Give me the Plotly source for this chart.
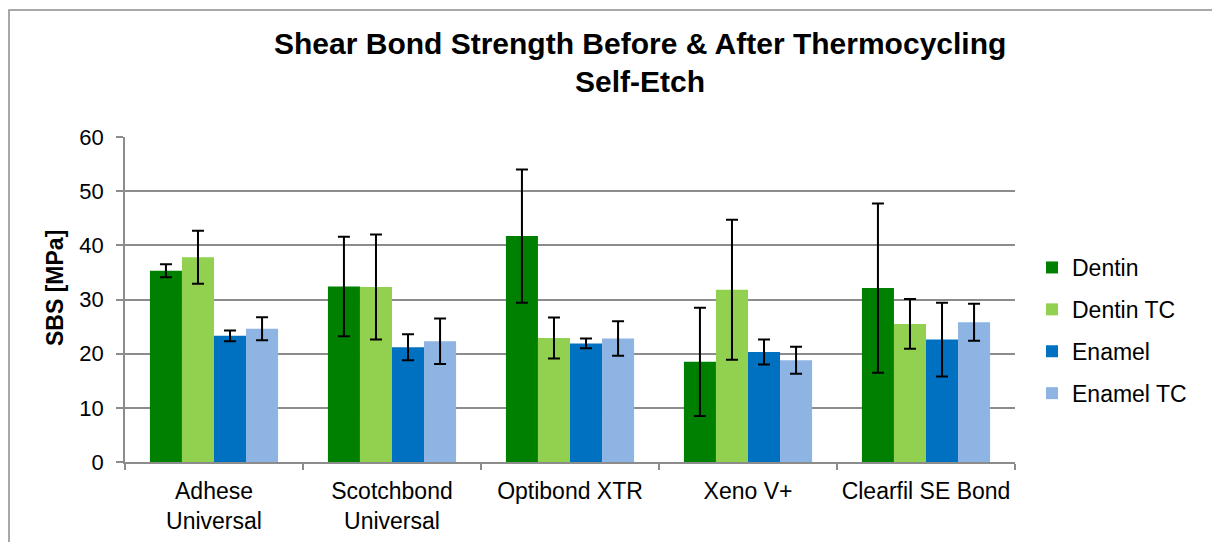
import plotly.graph_objects as go

categories = ["Adhese<br>Universal", "Scotchbond<br>Universal", "Optibond XTR", "Xeno V+", "Clearfil SE Bond"]
series_names = ["Dentin", "Dentin TC", "Enamel", "Enamel TC"]
dentin = [35.3, 32.4, 41.7, 18.5, 32.1]
dentin_err = [1.2, 9.2, 12.3, 10.0, 15.6]
dentin_tc = [37.8, 32.3, 22.9, 31.8, 25.5]
dentin_tc_err = [4.9, 9.7, 3.8, 12.9, 4.6]
enamel = [23.3, 21.2, 21.9, 20.3, 22.6]
enamel_err = [1.0, 2.4, 0.9, 2.3, 6.8]
enamel_tc = [24.6, 22.3, 22.8, 18.8, 25.8]
enamel_tc_err = [2.1, 4.2, 3.2, 2.5, 3.4]
colors = ["#008000", "#92D050", "#0070C0", "#8DB4E2"]
title_lines = ["Shear Bond Strength Before & After Thermocycling", "Self-Etch"]

values = [dentin, dentin_tc, enamel, enamel_tc]
errors = [dentin_err, dentin_tc_err, enamel_err, enamel_tc_err]

FONT = "Liberation Sans, Arial, sans-serif"

fig = go.Figure()
for name, v, e, c in zip(series_names, values, errors, colors):
    fig.add_trace(go.Bar(
        x=categories, y=v, name=name, legendgroup=name,
        marker=dict(color=c, line=dict(width=0)),
        error_y=dict(type="data", array=e, visible=True, color="black", thickness=2, width=6),
    ))

# plot area in px: x 125..1015, y 137..462
L, R, T, B = 125, 1015, 137, 462
W, H = 1212, 542
pw, ph = R - L, B - T

def px_x(x):
    return (x - L) / pw

def px_y(y):
    return (B - y) / ph

fig.update_layout(
    width=W, height=H,
    margin=dict(l=L, r=W - R, t=T, b=H - B, pad=0, autoexpand=False),
    paper_bgcolor="white", plot_bgcolor="white",
    font=dict(family=FONT, size=23, color="black"),
    barmode="group", bargap=0.28, bargroupgap=0,
    legend=dict(
        x=px_x(1032), xanchor="left",
        y=px_y(246), yanchor="top",
        font=dict(family=FONT, size=23, color="black"),
        traceorder="grouped", tracegroupgap=9,
        bgcolor="rgba(0,0,0,0)", itemwidth=30,
    ),
    showlegend=True,
)

fig.update_yaxes(
    range=[0, 60], dtick=10, showgrid=True, gridcolor="#8C8C8C", gridwidth=1.5,
    showline=True, linecolor="#8C8C8C", linewidth=1.5,
    ticks="outside", ticklen=7, tickcolor="#8C8C8C", tickwidth=1.5,
    tickfont=dict(family=FONT, size=22, color="black"), zeroline=False,
    automargin=False, ticklabelstandoff=8,
)
fig.update_xaxes(
    showline=True, linecolor="#8C8C8C", linewidth=1.5,
    ticks="outside", tickson="boundaries", ticklen=6, tickcolor="#8C8C8C", tickwidth=1.5,
    tickfont=dict(family=FONT, size=23, color="black"), showgrid=False,
    tickangle=0, automargin=False, ticklabelstandoff=8,
)

for line, yc in zip(title_lines, [43, 81]):
    fig.add_annotation(
        text="<b>" + line + "</b>", showarrow=False,
        xref="paper", yref="paper", x=px_x(640), y=px_y(yc),
        xanchor="center", yanchor="middle",
        font=dict(family=FONT, size=30, color="black"),
    )

fig.add_annotation(
    text="<b>SBS [MPa]</b>", textangle=-90, showarrow=False,
    xref="paper", yref="paper",
    x=px_x(55), y=px_y(288), xanchor="center", yanchor="middle",
    font=dict(family=FONT, size=23, color="black"),
)

# chart border (only left and top visible)
fig.add_shape(
    type="rect", xref="paper", yref="paper",
    x0=px_x(9), x1=px_x(1230), y0=px_y(560), y1=px_y(10),
    line=dict(color="#8C8C8C", width=1.5), fillcolor="rgba(0,0,0,0)", layer="below",
)

fig.write_html("out.html", config={"displayModeBar": False},
               post_script="document.body.style.margin='0px';")
